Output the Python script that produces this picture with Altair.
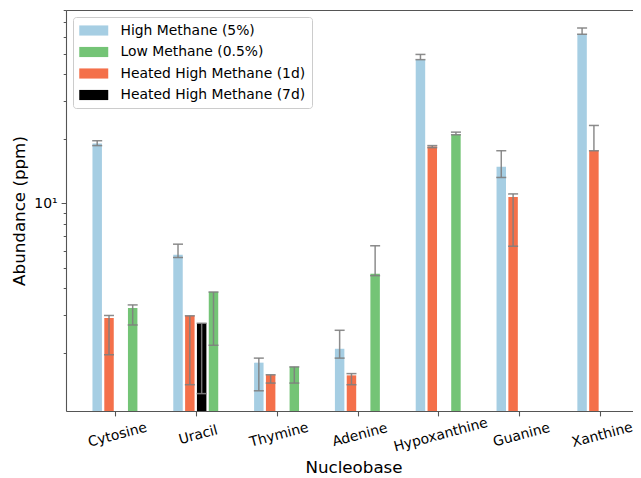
import altair as alt
import pandas as pd

# ---------------- data ----------------
categories = ["Cytosine", "Uracil", "Thymine", "Adenine", "Hypoxanthine", "Guanine", "Xanthine"]

series_names = ["High Methane (5%)", "Low Methane (0.5%)",
                "Heated High Methane (1d)", "Heated High Methane (7d)"]
series_colors = ["#a6cee3", "#74c476", "#f4704a", "#000000"]
bar_order = ["High Methane (5%)", "Heated High Methane (1d)",
             "Heated High Methane (7d)", "Low Methane (0.5%)"]

high_values = [19.0, 5.74, 1.80, 2.09, 46.9, 14.8, 61.7]
high_lower = [18.6, 5.58, 1.33, 1.89, 46.9, 13.2, 61.7]
high_upper = [19.6, 6.44, 1.89, 2.55, 49.6, 17.6, 65.9]

low_values = [3.24, 3.85, 1.72, 4.69, 20.9, None, None]
low_lower = [2.70, 2.17, 1.445, 4.59, 20.9, None, None]
low_upper = [3.35, 3.85, 1.72, 6.33, 21.5, None, None]

heat1_values = [2.91, 2.98, 1.575, 1.57, 18.4, 10.7, 17.6]
heat1_lower = [1.96, 1.42, 1.445, 1.42, 18.2, 6.3, 17.6]
heat1_upper = [2.99, 2.98, 1.58, 1.60, 18.6, 11.06, 23.1]

heat7_values = [None, 2.75, None, None, None, None, None]
heat7_lower = [None, 1.29, None, None, None, None, None]
heat7_upper = [None, 2.75, None, None, None, None, None]

y_floor = 1.07
y_top = 80
y_tick_values = [2, 3, 4, 5, 6, 7, 8, 9, 10, 20, 30, 40, 50, 60, 70, 80]

rows = []
for name, vals, lows, highs in [
    (series_names[0], high_values, high_lower, high_upper),
    (series_names[1], low_values, low_lower, low_upper),
    (series_names[2], heat1_values, heat1_lower, heat1_upper),
    (series_names[3], heat7_values, heat7_lower, heat7_upper),
]:
    for c, v, lo, hi in zip(categories, vals, lows, highs):
        if v is None:
            continue
        rows.append({"nucleobase": c, "series": name, "value": v, "lower": lo, "upper": hi})
df = pd.DataFrame(rows)

FONT = "DejaVu Sans"
SPINE = "#555555"

x_scale = alt.Scale(paddingInner=0.151, paddingOuter=0.133, align=0.716, range=[0, 575])
x_axis = alt.Axis(
    orient="bottom",
    title="Nucleobase", labelAngle=-15, labelAlign="center", labelBaseline="top",
    labelFontSize=13.9, labelFont=FONT, labelColor="black", labelPadding=12,
    titleFontSize=16.7, titleFont=FONT, titleFontWeight="normal", titleColor="black",
    titlePadding=6, tickSize=4.9, tickWidth=1.1, tickColor=SPINE,
    domainColor=SPINE, domainWidth=1.1,
)
x_enc = alt.X("nucleobase:N", sort=categories, scale=x_scale, axis=x_axis)
x_plain = alt.X("nucleobase:N", sort=categories, scale=x_scale, axis=None)
x_top = alt.X("nucleobase:N", sort=categories, scale=x_scale,
              axis=alt.Axis(orient="top", labels=False, ticks=False, title=None,
                            domain=True, domainColor=SPINE, domainWidth=1.1))
xoff_enc = alt.XOffset(
    "series:N",
    scale=alt.Scale(domain=bar_order, paddingInner=0.2, paddingOuter=1, align=0.468),
)
y_scale = alt.Scale(type="log", domain=[y_floor, y_top], nice=False)
y_axis = alt.Axis(
    title="Abundance (ppm)", values=y_tick_values,
    labelExpr="datum.value == 10 ? '10¹' : ''",
    labelFontSize=13.9, labelFont=FONT, labelColor="black", labelPadding=4,
    titleFontSize=16.7, titleFont=FONT, titleFontWeight="normal", titleColor="black",
    titlePadding=5, grid=False,
    tickSize={"condition": {"test": "datum.value == 10", "value": 4.9}, "value": 2.8},
    tickWidth=1.0, tickColor=SPINE, domainColor=SPINE, domainWidth=1.1,
)

base = alt.Chart(df)

bars = base.mark_bar().encode(
    x=x_enc,
    xOffset=xoff_enc,
    y=alt.Y("value:Q", scale=y_scale, axis=y_axis),
    y2=alt.datum(y_floor),
    color=alt.Color(
        "series:N",
        scale=alt.Scale(domain=series_names, range=series_colors),
        legend=alt.Legend(
            title=None, orient="top-left", offset=7, padding=6,
            labelFontSize=13.9, labelFont=FONT, labelColor="black", labelLimit=0,
            labelOffset=19.25, symbolOffset=7.25,
            symbolType="M-2,-0.7H2V0.7H-2Z", symbolSize=210, symbolStrokeWidth=0,
            symbolOpacity=1, rowPadding=6.5,
            strokeColor="#cccccc", fillColor="white", cornerRadius=3,
        ),
    ),
)

err = base.mark_rule(color="#7f7f7f", strokeWidth=1.5, opacity=0.9).encode(
    x=x_plain, xOffset=xoff_enc,
    y=alt.Y("lower:Q", scale=y_scale, axis=y_axis),
    y2="upper:Q",
)
cap_hi = base.mark_tick(color="#7f7f7f", thickness=1.5, size=10, opacity=0.9,
                        orient="horizontal").encode(
    x=x_plain, xOffset=xoff_enc,
    y=alt.Y("upper:Q", scale=y_scale, axis=y_axis),
)
cap_lo = base.mark_tick(color="#7f7f7f", thickness=1.5, size=10, opacity=0.9,
                        orient="horizontal").encode(
    x=x_top, xOffset=xoff_enc,
    y=alt.Y("lower:Q", scale=y_scale, axis=y_axis),
)

chart = alt.layer(bars, err, cap_hi, cap_lo).resolve_axis(x="independent").properties(
    width=567, height=401,
    autosize=alt.AutoSizeParams(type="none"),
    padding={"left": 58, "top": 2, "right": 0, "bottom": 67},
).configure_view(
    stroke=None,
).configure(
    font=FONT, background="white",
)

chart.save("out.html", embed_options={"renderer": "svg", "actions": False})
